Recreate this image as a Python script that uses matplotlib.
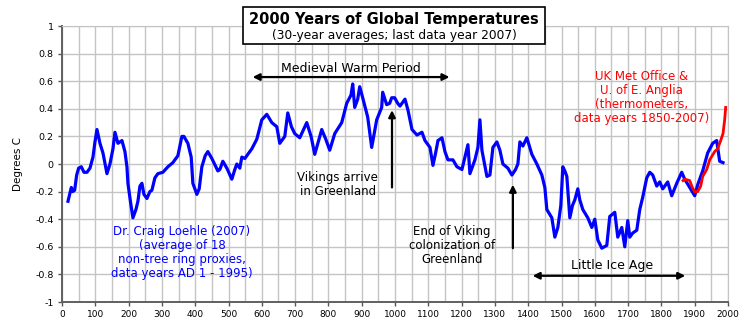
import matplotlib

matplotlib.use("Agg")
import matplotlib.pyplot as plt
from matplotlib.patches import Rectangle

# Loehle (2007) reconstruction, 30-year averages
loehle_years = [
    18, 24, 28, 32, 38, 44, 50, 58, 66, 75, 84, 93, 99, 105, 114, 123, 135, 144,
    153, 159, 168, 180, 189, 195, 198, 206, 213, 222, 228, 234, 240, 246, 255,
    264, 270, 279, 288, 303, 318, 333, 348, 360, 366, 378, 388, 393, 405, 412,
    420, 430, 438, 450, 468, 474, 483, 495, 510, 519, 525, 534, 540, 549, 555,
    570, 585, 600, 615, 630, 645, 654, 669, 678, 689, 699, 714, 735, 748, 759,
    780, 792, 804, 819, 840, 855, 868, 873, 879, 888, 894, 903, 918, 930, 945,
    960, 963, 975, 984, 990, 999, 1008, 1015, 1030, 1039, 1051, 1066, 1081,
    1090, 1105, 1114, 1122, 1129, 1141, 1150, 1159, 1174, 1186, 1201, 1210,
    1219, 1225, 1240, 1249, 1255, 1261, 1276, 1285, 1294, 1306, 1315, 1324,
    1339, 1351, 1362, 1369, 1375, 1384, 1396, 1411, 1426, 1441, 1450, 1456,
    1471, 1480, 1489, 1498, 1504, 1510, 1516, 1525, 1533, 1540, 1549, 1555,
    1564, 1579, 1591, 1600, 1609, 1621, 1636, 1645, 1660, 1669, 1681, 1690,
    1699, 1705, 1714, 1726, 1735, 1744, 1756, 1765, 1774, 1786, 1795, 1804,
    1819, 1831, 1846, 1861, 1870, 1885, 1900, 1909, 1924, 1939, 1954, 1966,
    1975, 1985,
]
loehle_temps = [
    -0.27, -0.21, -0.17, -0.20, -0.19, -0.08, -0.03, -0.02, -0.06, -0.06, -0.03,
    0.05, 0.16, 0.25, 0.15, 0.08, -0.07, 0.00, 0.11, 0.23, 0.15, 0.17, 0.09,
    -0.02, -0.14, -0.28, -0.39, -0.33, -0.27, -0.16, -0.14, -0.22, -0.25, -0.20,
    -0.19, -0.10, -0.07, -0.06, -0.02, 0.01, 0.06, 0.20, 0.20, 0.15, 0.05,
    -0.14, -0.22, -0.18, -0.02, 0.06, 0.09, 0.04, -0.05, -0.04, 0.02, -0.03,
    -0.11, -0.04, 0.00, -0.03, 0.05, 0.04, 0.06, 0.11, 0.18, 0.32, 0.36, 0.30,
    0.27, 0.15, 0.20, 0.37, 0.27, 0.22, 0.19, 0.30, 0.20, 0.07, 0.25, 0.18,
    0.10, 0.22, 0.30, 0.44, 0.50, 0.58, 0.41, 0.47, 0.56, 0.48, 0.34, 0.12,
    0.32, 0.41, 0.52, 0.43, 0.44, 0.48, 0.48, 0.44, 0.42, 0.47, 0.39, 0.25,
    0.21, 0.23, 0.17, 0.12, -0.01, 0.08, 0.17, 0.19, 0.09, 0.03, 0.03, -0.02,
    -0.04, 0.05, 0.14, -0.07, 0.03, 0.12, 0.32, 0.10, -0.09, -0.08, 0.12, 0.16,
    0.10, 0.00, -0.03, -0.08, -0.04, 0.00, 0.16, 0.13, 0.19, 0.07, 0.00, -0.08,
    -0.17, -0.33, -0.39, -0.53, -0.46, -0.30, -0.02, -0.05, -0.09, -0.39,
    -0.30, -0.26, -0.18, -0.26, -0.33, -0.39, -0.46, -0.40, -0.55, -0.61,
    -0.59, -0.38, -0.35, -0.53, -0.46, -0.60, -0.41, -0.53, -0.50, -0.48,
    -0.33, -0.24, -0.10, -0.06, -0.08, -0.16, -0.13, -0.18, -0.13, -0.23,
    -0.14, -0.06, -0.11, -0.17, -0.23, -0.15, -0.05, 0.08, 0.15, 0.17, 0.02,
    0.01,
]

# Met Office / CRU thermometer record, 30-year averages
hadcrut_years = [1865, 1870, 1885, 1893, 1900, 1909, 1918, 1924, 1936, 1945,
                 1960, 1969, 1978, 1985, 1990, 1993]
hadcrut_temps = [-0.12, -0.11, -0.12, -0.17, -0.20, -0.20, -0.16, -0.09,
                 -0.04, 0.03, 0.09, 0.11, 0.17, 0.22, 0.32, 0.41]

x_ticks = list(range(0, 2001, 100))
y_ticks = [-1, -0.8, -0.6, -0.4, -0.2, 0, 0.2, 0.4, 0.6, 0.8, 1]
y_tick_labels = ["-1", "-0.8", "-0.6", "-0.4", "-0.2", "0", "0.2", "0.4", "0.6", "0.8", "1"]

plt.rcParams["font.family"] = ["DejaVu Sans"]

fig = plt.figure(figsize=(7.39, 3.25), dpi=100)
ax = fig.add_axes([62 / 739, 23 / 325, 666 / 739, 276 / 325])

ax.set_xlim(0, 2000)
ax.set_ylim(-1, 1)
ax.set_xticks(x_ticks)
ax.set_xticklabels([str(t) for t in x_ticks], fontsize=6.5)
ax.set_xticks(range(50, 2000, 100), minor=True)
ax.set_yticks(y_ticks)
ax.set_yticklabels(y_tick_labels, fontsize=6.8)
ax.tick_params(axis="both", which="major", length=3, width=1, color="#555555", pad=3)
ax.tick_params(axis="x", which="minor", length=0)
ax.grid(True, which="both", color="#c4c4c4", linewidth=1)
ax.set_axisbelow(True)
for side in ("top", "right"):
    ax.spines[side].set_color("#c4c4c4")
for side in ("left", "bottom"):
    ax.spines[side].set_color("#606060")
    ax.spines[side].set_linewidth(1.4)
ax.set_ylabel("Degrees C", fontsize=7.5, labelpad=9)

ax.plot(loehle_years, loehle_temps, color="#0000ff", linewidth=2.3, zorder=3)
ax.plot(hadcrut_years, hadcrut_temps, color="#ff0000", linewidth=2.0, zorder=4)

arrow = dict(arrowstyle="<|-|>", color="black", lw=1.6, mutation_scale=10)
ax.annotate("", xy=(564, 0.63), xytext=(1172, 0.63), arrowprops=arrow)
ax.text(868, 0.69, "Medieval Warm Period", ha="center", va="center", fontsize=9)
ax.annotate("", xy=(1405, -0.81), xytext=(1880, -0.81), arrowprops=arrow)
ax.text(1651, -0.735, "Little Ice Age", ha="center", va="center", fontsize=9)

up = dict(arrowstyle="-|>", color="black", lw=1.6, mutation_scale=10)
ax.annotate("", xy=(991, 0.41), xytext=(991, -0.19), arrowprops=up)
ax.text(828, -0.15, "Vikings arrive\nin Greenland", ha="center", va="center",
        fontsize=8.5, linespacing=1.05)
ax.annotate("", xy=(1354, -0.13), xytext=(1354, -0.63), arrowprops=up)
ax.text(1171, -0.59, "End of Viking\ncolonization of\nGreenland", ha="center",
        va="center", fontsize=8.5, linespacing=1.1)

ax.text(360, -0.64, "Dr. Craig Loehle (2007)\n(average of 18\nnon-tree ring proxies,\n"
        "data years AD 1 - 1995)", ha="center", va="center", fontsize=8.5,
        color="#0000ff", linespacing=1.1)
ax.text(1741, 0.48, "UK Met Office &\nU. of E. Anglia\n(thermometers,\n"
        "data years 1850-2007)", ha="center", va="center", fontsize=8.5,
        color="#ff0000", linespacing=1.1)

# title box overlapping the top of the plot
fig.add_artist(Rectangle((243 / 739, 1 - 44 / 325), 302 / 739, 37 / 325,
                         transform=fig.transFigure, facecolor="white",
                         edgecolor="black", linewidth=1.2, zorder=5))
fig.text(394 / 739, 1 - 19.5 / 325, "2000 Years of Global Temperatures",
         ha="center", va="center", fontsize=10.5, fontweight="bold", zorder=6)
fig.text(394 / 739, 1 - 36 / 325, "(30-year averages; last data year 2007)",
         ha="center", va="center", fontsize=8.8, zorder=6)

fig.savefig("out.png", dpi=100)
